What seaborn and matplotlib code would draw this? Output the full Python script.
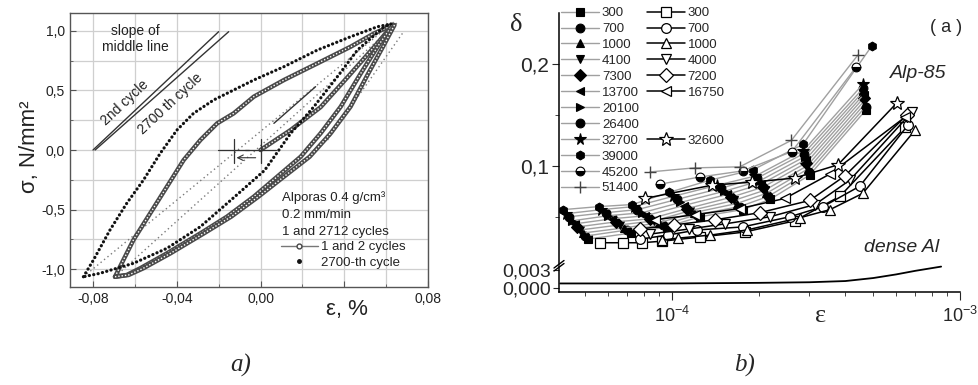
import numpy as np
import matplotlib
matplotlib.use("Agg")
import matplotlib.pyplot as plt
import seaborn as sns
from matplotlib.lines import Line2D
from matplotlib.ticker import FixedLocator, FixedFormatter, NullFormatter, LogLocator

sns.set_style("white")
plt.rcParams["font.family"] = ["Liberation Sans", "DejaVu Sans"]
plt.rcParams["mathtext.fontset"] = "custom"
plt.rcParams["mathtext.rm"] = "Liberation Sans"
plt.rcParams["mathtext.it"] = "Liberation Sans:italic"

# ---------------- Panel a data (strain %, stress N/mm^2) ----------------
eps_c1_load = [0.0, 0.0144, 0.0287, 0.0415, 0.0550, 0.0631]
sig_c1_load = [0.0, 0.168, 0.360, 0.610, 0.880, 1.050]
eps_c12_up = [-0.0695, -0.0655, -0.0607, -0.0527, -0.0447, -0.0367, -0.0287, -0.0207,
              -0.0128, -0.0032, 0.0112, 0.0272, 0.0431, 0.0543, 0.0631]
sig_c12_up = [-1.065, -0.924, -0.756, -0.532, -0.308, -0.084, 0.084, 0.224,
              0.308, 0.448, 0.588, 0.728, 0.868, 0.980, 1.050]
eps_c1_down = [0.0631, 0.0559, 0.0479, 0.0383, 0.0287, 0.0192, 0.0080, -0.0032,
               -0.0160, -0.0287, -0.0447, -0.0575, -0.0639, -0.0695]
sig_c1_down = [1.050, 0.868, 0.644, 0.364, 0.140, -0.056, -0.224, -0.392,
               -0.560, -0.700, -0.868, -0.994, -1.050, -1.065]
eps_c2_down = [0.0640, 0.0585, 0.0515, 0.0430, 0.0335, 0.0235, 0.0112, -0.0010,
               -0.0140, -0.0270, -0.0430, -0.0560, -0.0630, -0.0695]
sig_c2_down = [1.050, 0.868, 0.644, 0.364, 0.140, -0.056, -0.224, -0.392,
               -0.560, -0.700, -0.868, -0.994, -1.050, -1.065]
eps_n2700_up = [-0.0846, -0.0798, -0.0719, -0.0639, -0.0559, -0.0479, -0.0399, -0.0320,
                -0.0224, -0.0128, -0.0032, 0.0112, 0.0272, 0.0431, 0.0559, 0.0623]
sig_n2700_up = [-1.065, -0.924, -0.672, -0.448, -0.252, -0.028, 0.168, 0.308,
                0.420, 0.504, 0.588, 0.700, 0.840, 0.952, 1.036, 1.059]
eps_n2700_down = [0.0623, 0.0591, 0.0463, 0.0367, 0.0255, 0.0144, 0.0020, -0.0128,
                  -0.0287, -0.0447, -0.0607, -0.0767, -0.0846]
sig_n2700_down = [1.059, 1.036, 0.840, 0.616, 0.364, 0.140, -0.170, -0.400,
                  -0.644, -0.826, -0.952, -1.036, -1.065]
eps_mid_2700 = [-0.0846, 0.0640]
sig_mid_2700 = [-1.065, 1.080]
eps_mid_2nd = [-0.0695, 0.0660]
sig_mid_2nd = [-1.065, 1.080]
eps_steep = [0.0320, 0.0686]
sig_steep = [0.084, 1.000]
eps_slope_2nd = [-0.0800, -0.0200]
sig_slope_2nd = [0.0, 0.994]
eps_slope_2700 = [-0.0790, -0.0152]
sig_slope_2700 = [0.0, 0.994]
eps_short = [0.0064, 0.0263]
sig_short = [0.224, 0.532]
cross_eps = [-0.0128, 0.0]

# ---------------- Panel b data (strain amplitude, damping) ----------------
N_filled = ["300", "700", "1000", "4100", "7300", "13700", "20100",
            "26400", "32700", "39000", "45200", "51400"]
mk_filled = ["s", "o", "^", "v", "D", "<", ">", "o", "*", "h", "o", "+"]
eps_filled = [  # x 1e-5
    [5.1, 7.2, 9.6, 12.5, 17.6, 21.9, 30.1, 47.2],
    [5.0, 7.0, 9.3, 12.2, 17.2, 21.6, 29.9, 47.0],
    [4.9, 6.8, 9.0, 11.9, 16.8, 21.3, 29.7, 46.8],
    [4.8, 6.6, 8.7, 11.6, 16.4, 21.0, 29.5, 46.6],
    [4.7, 6.4, 8.4, 11.3, 16.0, 20.7, 29.3, 46.4],
    [4.6, 6.2, 8.1, 11.0, 15.6, 20.4, 29.1, 46.3],
    [4.5, 6.0, 7.9, 10.7, 15.2, 20.1, 28.9, 46.2],
    [4.4, 5.9, 7.6, 10.4, 14.8, 19.8, 28.7, 46.1],
    [4.3, 5.7, 7.4, 10.1, 14.4, 19.5, 28.6, 46.0],
    [4.2, 5.6, 7.3, 9.8, 13.6, 19.1, 28.5, 49.5],
    [9.1, 12.5, 17.6, 26.1, 43.6],
    [8.4, 12.0, 17.2, 26.0, 44.3],
]
delta_filled = [
    [0.028, 0.034, 0.040, 0.050, 0.057, 0.067, 0.091, 0.155],
    [0.031, 0.037, 0.042, 0.052, 0.060, 0.070, 0.094, 0.158],
    [0.034, 0.039, 0.044, 0.054, 0.063, 0.073, 0.097, 0.161],
    [0.037, 0.042, 0.046, 0.056, 0.066, 0.076, 0.100, 0.164],
    [0.040, 0.045, 0.048, 0.058, 0.069, 0.079, 0.103, 0.167],
    [0.043, 0.048, 0.051, 0.061, 0.072, 0.082, 0.106, 0.170],
    [0.046, 0.051, 0.054, 0.064, 0.075, 0.085, 0.109, 0.173],
    [0.050, 0.054, 0.057, 0.067, 0.078, 0.088, 0.112, 0.176],
    [0.053, 0.057, 0.060, 0.070, 0.081, 0.090, 0.115, 0.180],
    [0.057, 0.060, 0.062, 0.074, 0.086, 0.096, 0.121, 0.218],
    [0.082, 0.089, 0.095, 0.114, 0.197],
    [0.094, 0.098, 0.099, 0.125, 0.209],
]
N_open = ["300", "700", "1000", "4000", "7200", "16750", "32600"]
mk_open = ["s", "o", "^", "v", "D", "<", "*"]
eps_open = [  # x 1e-5
    [5.62, 6.76, 7.87, 9.23, 12.5, 17.9, 26.7, 38.3, 64.6],
    [7.74, 9.68, 12.2, 17.6, 25.7, 33.5, 44.9, 66.0],
    [9.23, 10.5, 13.6, 18.2, 27.8, 35.4, 46.0, 69.8],
    [8.39, 11.5, 15.3, 21.9, 31.4, 41.5, 68.2],
    [7.74, 10.2, 14.1, 20.2, 30.1, 39.8, 65.5],
    [8.73, 12.0, 17.2, 24.7, 35.4, 64.6],
    [8.06, 13.8, 19.0, 26.7, 37.7, 60.5],
]
delta_open = [
    [0.0245, 0.0245, 0.0245, 0.026, 0.030, 0.035, 0.046, 0.070, 0.138],
    [0.028, 0.032, 0.037, 0.040, 0.050, 0.060, 0.080, 0.140],
    [0.027, 0.029, 0.032, 0.037, 0.049, 0.057, 0.073, 0.135],
    [0.033, 0.038, 0.043, 0.050, 0.062, 0.086, 0.153],
    [0.038, 0.042, 0.047, 0.054, 0.066, 0.090, 0.150],
    [0.047, 0.052, 0.058, 0.068, 0.092, 0.148],
    [0.068, 0.081, 0.084, 0.088, 0.101, 0.162],
]
eps_dense_al = [4.1e-5, 1e-4, 2e-4, 3e-4, 4e-4, 5e-4, 6e-4, 7e-4, 8.6e-4]
delta_dense_al = [0.0008, 0.0008, 0.0009, 0.0010, 0.0012, 0.0017, 0.0023, 0.0029, 0.0036]

W, H = 979, 385
def fx(p):
    return p / W
def fy(p):
    return 1 - p / H

fig = plt.figure(figsize=(W / 100, H / 100), dpi=100)

# ======================= Panel a =======================
axA = fig.add_axes([fx(70), fy(287), 358 / W, 274 / H])
axA.set_xlim(-0.091, 0.080)
axA.set_ylim(-1.151, 1.151)
axA.set_axisbelow(True)
axA.xaxis.set_major_locator(FixedLocator([-0.08, -0.04, 0.0, 0.04, 0.08]))
axA.xaxis.set_major_formatter(FixedFormatter(["-0,08", "-0,04", "0,00", "", "0,08"]))
axA.xaxis.set_minor_locator(FixedLocator([-0.06, -0.02, 0.02, 0.06]))
axA.yaxis.set_major_locator(FixedLocator([-1.0, -0.5, 0.0, 0.5, 1.0]))
axA.yaxis.set_major_formatter(FixedFormatter(["-1,0", "-0,5", "0,0", "0,5", "1,0"]))
axA.yaxis.set_minor_locator(FixedLocator([-0.75, -0.25, 0.25, 0.75]))
axA.grid(True, which="both", color="#cfcfcf", lw=0.9)
axA.tick_params(which="both", direction="in", bottom=True, left=True, labelsize=10,
                color="#555555", labelcolor="#222222")
axA.tick_params(which="major", length=4)
axA.tick_params(which="minor", length=2)
for s in axA.spines.values():
    s.set_color("#555555")
    s.set_linewidth(1.0)

def lp(ax, x, y, **kw):
    sns.lineplot(x=np.asarray(x), y=np.asarray(y), ax=ax, sort=False,
                 estimator=None, **kw)

# middle (dotted) lines
for ex, sy in [(eps_mid_2700, sig_mid_2700), (eps_mid_2nd, sig_mid_2nd), (eps_steep, sig_steep)]:
    lp(axA, ex, sy, color="#7a7a7a", lw=1.0, linestyle=(0, (1, 2.2)))

# cycles 1 and 2: chains of small open circles
for ex, sy in [(eps_c1_load, sig_c1_load), (eps_c12_up, sig_c12_up),
               (eps_c1_down, sig_c1_down), (eps_c2_down, sig_c2_down)]:
    lp(axA, ex, sy, color="#4a4a4a", lw=3.2, solid_capstyle="round")
    lp(axA, ex, sy, color="white", lw=1.0, linestyle=(0, (1.0, 1.4)))

# 2700th cycle: dense dots
for ex, sy in [(eps_n2700_up, sig_n2700_up), (eps_n2700_down, sig_n2700_down)]:
    lp(axA, ex, sy, color="#111111", lw=2.3, linestyle=(0, (0.05, 1.35)),
       dash_capstyle="round")

# slope-of-middle-line indicators
lp(axA, eps_slope_2nd, sig_slope_2nd, color="#333333", lw=1.0)
lp(axA, eps_slope_2700, sig_slope_2700, color="#333333", lw=1.0)
lp(axA, eps_short, sig_short, color="#333333", lw=1.0)

# crosshairs at zero crossings of middle lines
for cx in cross_eps:
    axA.plot([cx - 0.0075, cx + 0.0075], [0, 0], color="#333333", lw=0.9)
    axA.plot([cx, cx], [-0.11, 0.09], color="#333333", lw=0.9)
axA.annotate("", xy=(cross_eps[0], -0.065), xytext=(cross_eps[1] - 0.001, -0.065),
             arrowprops=dict(arrowstyle="->", lw=0.8, color="#333333"))

axA.text(-0.0600, 0.93, "slope of\nmiddle line", fontsize=10, ha="center", va="center",
         color="#222222", linespacing=1.15)
axA.text(-0.0650, 0.40, "2nd cycle", fontsize=10, rotation=43, ha="center", va="center",
         color="#222222")
axA.text(-0.0430, 0.39, "2700 th cycle", fontsize=10, rotation=43, ha="center", va="center",
         color="#222222")

fig.text(fx(282), fy(198), "Alporas 0.4 g/cm\u00b3", fontsize=9.5, va="center", color="#222222")
fig.text(fx(282), fy(215), "0.2 mm/min", fontsize=9.5, va="center", color="#222222")
fig.text(fx(282), fy(232), "1 and 2712 cycles", fontsize=9.5, va="center", color="#222222")
hA1 = Line2D([], [], color="#777777", lw=1.0, marker="o", ms=3.5, mfc="white", mec="#444444")
hA2 = Line2D([], [], ls="none", marker="o", ms=2.5, color="#111111")
axA.legend([hA1, hA2], ["1 and 2 cycles", "2700-th cycle"], loc="upper left",
           bbox_to_anchor=(fx(281), fy(241)), bbox_transform=fig.transFigure,
           frameon=False, fontsize=9.5, handlelength=2.8, handletextpad=0.25,
           labelspacing=0.25, borderpad=0, borderaxespad=0, labelcolor="#222222")

fig.text(fx(30), fy(147), "\u03c3, N/mm\u00b2", fontsize=16, rotation=90,
         ha="center", va="center", color="#222222")
fig.text(fx(347), fy(309), "\u03b5, %", fontsize=16, ha="center", va="center",
         color="#222222")

# ======================= Panel b =======================
axB = fig.add_axes([fx(559), fy(264), 401 / W, 251 / H])
axL = fig.add_axes([fx(559), fy(292), 401 / W, 26 / H])
for ax in (axB, axL):
    ax.set_xscale("log")
    ax.set_xlim(4.06e-5, 1e-3)
    ax.patch.set_alpha(0)
axB.set_ylim(0.00363, 0.25)
axL.set_ylim(-0.00062, 0.0037)

for s in ["top", "right", "bottom"]:
    axB.spines[s].set_visible(False)
for s in ["top", "right"]:
    axL.spines[s].set_visible(False)
for s in [axB.spines["left"], axL.spines["left"], axL.spines["bottom"]]:
    s.set_color("black")
    s.set_linewidth(1.1)

axB.tick_params(axis="x", which="both", bottom=False, labelbottom=False)
axB.yaxis.set_major_locator(FixedLocator([0.1, 0.2]))
axB.yaxis.set_major_formatter(FixedFormatter(["0,1", "0,2"]))
axB.yaxis.set_minor_locator(FixedLocator([0.05, 0.15]))
axB.tick_params(axis="y", which="both", direction="out", left=True, labelsize=15, pad=2)
axB.tick_params(axis="y", which="major", length=5)
axB.tick_params(axis="y", which="minor", length=3)

axL.yaxis.set_major_locator(FixedLocator([0.0, 0.003]))
axL.yaxis.set_major_formatter(FixedFormatter(["0,000", "0,003"]))
axL.yaxis.set_minor_locator(FixedLocator([]))
axL.tick_params(axis="y", which="major", direction="out", left=True, length=4,
                labelsize=14, pad=2)
axL.xaxis.set_major_locator(LogLocator(base=10, numticks=10))
axL.xaxis.set_minor_locator(LogLocator(base=10, subs=np.arange(2, 10), numticks=20))
axL.xaxis.set_minor_formatter(NullFormatter())
axL.tick_params(axis="x", which="both", direction="out", bottom=True, labelsize=13, pad=4)
axL.tick_params(axis="x", which="major", length=6)
axL.tick_params(axis="x", which="minor", length=3)

# filled series (grey lines, black markers)
handles_left = []
for i, (lab, mk) in enumerate(zip(N_filled, mk_filled)):
    e = np.array(eps_filled[i]) * 1e-5
    d = np.array(delta_filled[i])
    kw = dict(marker=mk, color="#a0a0a0", lw=1.0, mfc="black", mec="black", ms=6.3, mew=0.8)
    if mk == "+":
        kw.update(mec="#444444", ms=9, mew=1.0)
    if mk == "*":
        kw.update(ms=8.5)
    if lab == "45200":
        kw.update(fillstyle="bottom", mfcalt="white")
    lp(axB, e, d, **kw)
    handles_left.append(Line2D([], [], **{k: v for k, v in kw.items()}))

# open series (black lines, open markers)
handles_right = []
for i, (lab, mk) in enumerate(zip(N_open, mk_open)):
    e = np.array(eps_open[i]) * 1e-5
    d = np.array(delta_open[i])
    kw = dict(marker=mk, color="black", lw=1.1, mfc="white", mec="black", ms=7, mew=0.9)
    if mk == "*":
        kw.update(ms=10)
    lp(axB, e, d, **kw)
    handles_right.append(Line2D([], [], **kw))

# dense Al
lp(axL, eps_dense_al, delta_dense_al, color="black", lw=1.3, clip_on=False)

# legend (two columns; right column has gaps)
blank = Line2D([], [], alpha=0)
right_col = handles_right[:6] + [blank, blank, handles_right[6], blank, blank, blank]
right_lab = N_open[:6] + ["", "", N_open[6], "", "", ""]
axB.legend(handles_left + right_col, N_filled + right_lab, ncol=2, loc="upper left",
           bbox_to_anchor=(fx(561), fy(7)), bbox_transform=fig.transFigure,
           frameon=False, fontsize=9.5, handlelength=2.9, handletextpad=0.2,
           columnspacing=0.6, labelspacing=0.28, borderpad=0, borderaxespad=0)

# axis break marks
for off in (0.0, 3.0):
    fig.add_artist(Line2D([fx(554), fx(564)], [fy(271 - off), fy(263.5 - off)],
                          transform=fig.transFigure, color="black", lw=1.0))

fig.text(fx(516), fy(25), "\u03b4", fontsize=19, family="Liberation Serif",
         ha="center", va="center")
fig.text(fx(821), fy(316), "\u03b5", fontsize=19, family="Liberation Serif",
         ha="center", va="center")
fig.text(fx(946), fy(27), "( a )", fontsize=13, ha="center", va="center")
fig.text(fx(918), fy(73), "Alp-85", fontsize=14, style="italic", ha="center", va="center")
fig.text(fx(902), fy(248), "dense Al", fontsize=14, style="italic", ha="center", va="center")

# panel captions
fig.text(fx(241), fy(365), "a)", fontsize=18, family="Liberation Serif", style="italic",
         ha="center", va="center")
fig.text(fx(745), fy(365), "b)", fontsize=18, family="Liberation Serif", style="italic",
         ha="center", va="center")

fig.savefig("out.png", dpi=100)
